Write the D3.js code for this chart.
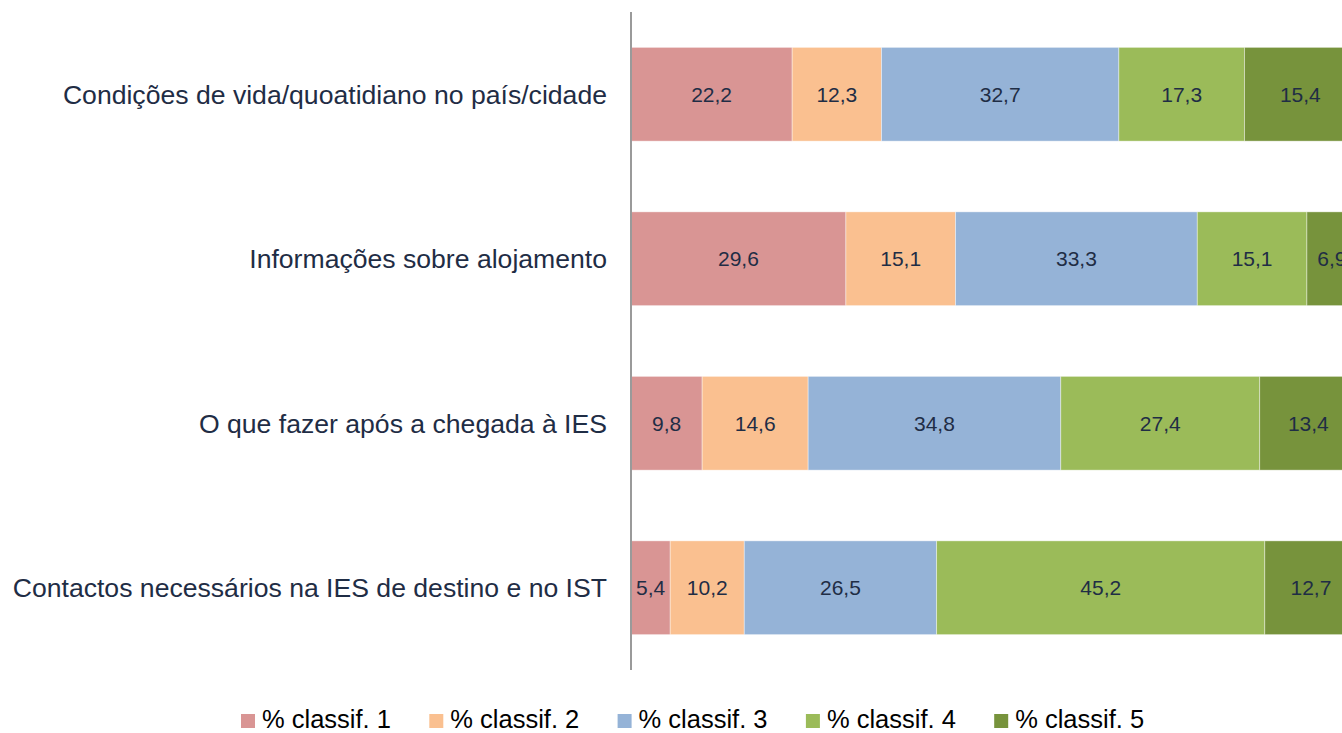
<!DOCTYPE html>
<head>
  <meta charset="utf-8">
  <script src="https://d3js.org/d3.v7.min.js"></script>
  <style>
body { margin: 0; background: #fff; }
text { font-family: "Liberation Sans", Arial, sans-serif; }
.cat { font-size: 26.6px; fill: #1f2d45; }
.val { font-size: 21px; fill: #1f2d45; }
.leg { font-size: 25.5px; fill: #000; }
  </style>
</head>
<body>
  <script>
    var categories = [
      'Condições de vida/quoatidiano no país/cidade',
      'Informações sobre alojamento',
      'O que fazer após a chegada à IES',
      'Contactos necessários na IES de destino e no IST'
    ];
    var seriesNames = ['% classif. 1', '% classif. 2', '% classif. 3', '% classif. 4', '% classif. 5'];
    var classif1 = [22.2, 29.6, 9.8, 5.4];
    var classif2 = [12.3, 15.1, 14.6, 10.2];
    var classif3 = [32.7, 33.3, 34.8, 26.5];
    var classif4 = [17.3, 15.1, 27.4, 45.2];
    var classif5 = [15.4, 6.9, 13.4, 12.7];
    var colors = ['#d99594', '#fac090', '#95b3d7', '#9bbb59', '#77933c'];

    var width = 1342, height = 733;
    var svg = d3.select('body').append('svg')
      .attr('width', width)
      .attr('height', height);

    var table = categories.map(function(c, i) {
      return {cat: c, s0: classif1[i], s1: classif2[i], s2: classif3[i], s3: classif4[i], s4: classif5[i]};
    });
    var keys = ['s0', 's1', 's2', 's3', 's4'];
    var stacked = d3.stack().keys(keys)(table);

    var x = d3.scaleLinear().domain([0, 100]).range([631, 1357]);
    var y = d3.scaleBand().domain(categories).range([12, 670]).paddingInner(0.43).paddingOuter(0.215);

    var chart = svg.append('g');

    var layers = chart.selectAll('g.layer')
      .data(stacked)
      .enter().append('g')
      .attr('class', 'layer')
      .attr('fill', (d, i) => colors[i]);

    layers.selectAll('rect')
      .data(d => d)
      .enter().append('rect')
      .attr('x', d => x(d[0]))
      .attr('width', d => x(d[1]) - x(d[0]))
      .attr('y', d => y(d.data.cat))
      .attr('height', y.bandwidth())
      .attr('stroke', '#fff')
      .attr('stroke-opacity', 0.5)
      .attr('stroke-width', 0.8);

    layers.selectAll('text')
      .data(d => d)
      .enter().append('text')
      .attr('class', 'val')
      .attr('x', d => (x(d[0]) + x(d[1])) / 2)
      .attr('y', d => y(d.data.cat) + y.bandwidth() / 2)
      .attr('dy', '0.35em')
      .attr('text-anchor', 'middle')
      .text(d => d3.format('.1f')(d[1] - d[0]).replace('.', ','));

    // category labels
    chart.selectAll('text.cat')
      .data(categories)
      .enter().append('text')
      .attr('class', 'cat')
      .attr('x', 607)
      .attr('y', d => y(d) + y.bandwidth() / 2)
      .attr('dy', '0.35em')
      .attr('text-anchor', 'end')
      .text(d => d);

    // vertical axis line
    chart.append('line')
      .attr('x1', 631).attr('x2', 631)
      .attr('y1', 12).attr('y2', 670)
      .attr('stroke', '#9a9a9a')
      .attr('stroke-width', 2);

    // legend
    var legend = svg.append('g').selectAll('g')
      .data(seriesNames)
      .enter().append('g')
      .attr('transform', (d, i) => 'translate(' + (241 + i * 188.3) + ',714)');
    legend.append('rect')
      .attr('width', 14).attr('height', 14)
      .attr('fill', (d, i) => colors[i]);
    legend.append('text')
      .attr('class', 'leg')
      .attr('x', 21)
      .attr('y', 14)
      .text(d => d);
  </script>
</body>
